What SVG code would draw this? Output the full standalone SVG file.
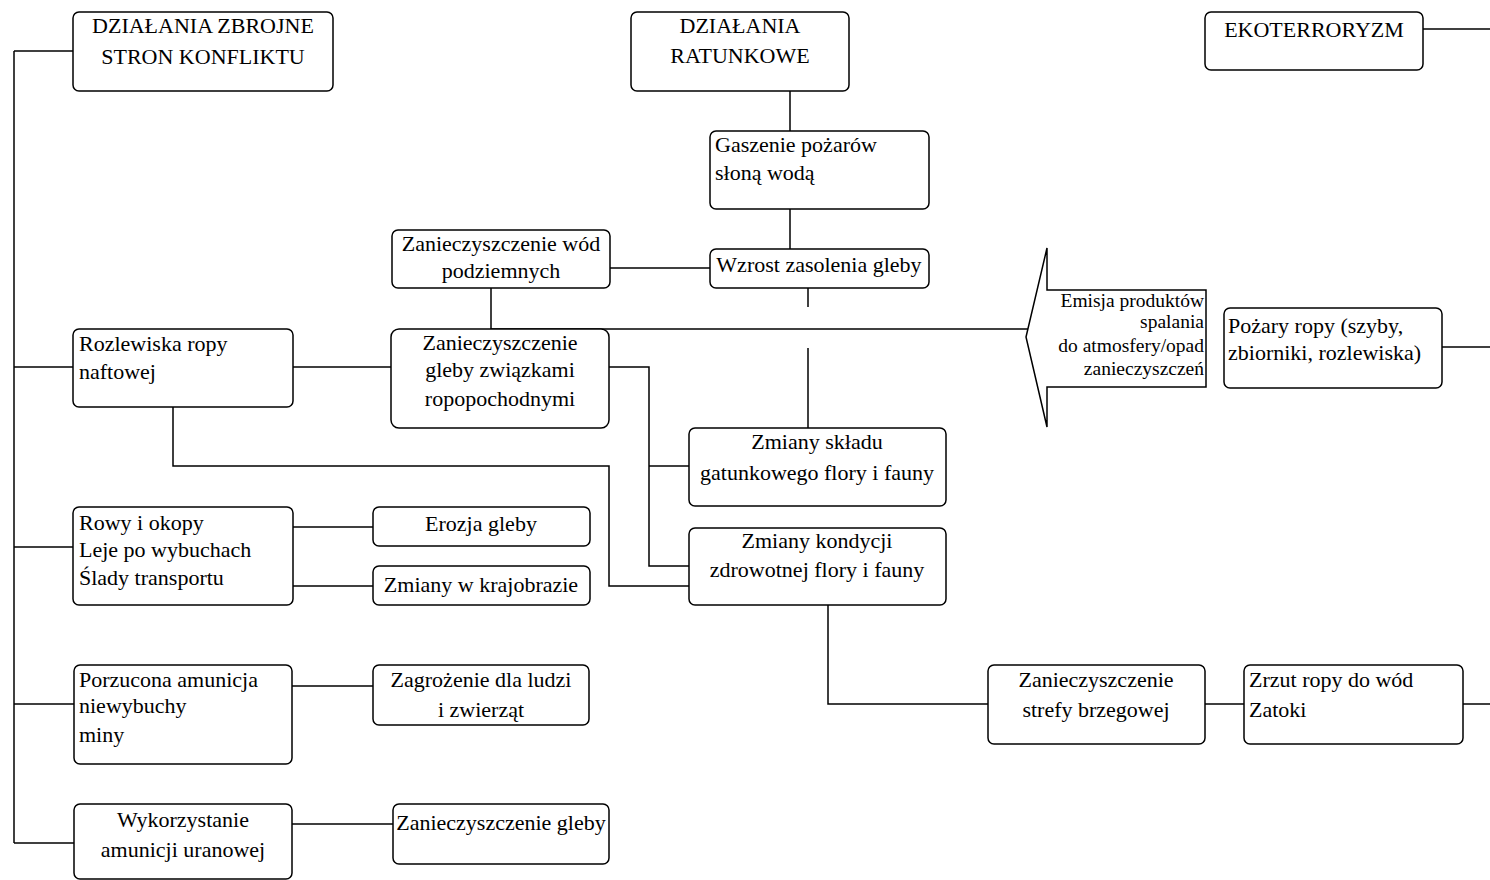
<svg xmlns="http://www.w3.org/2000/svg" width="1490" height="880" viewBox="0 0 1490 880">
<style>
rect.b{fill:#fff;stroke:#000;stroke-width:1.5}
text{font-family:"Liberation Serif","Times New Roman",serif;font-size:22px;fill:#000}
.c{text-anchor:middle}
.r{text-anchor:end}
.s{font-size:19.5px}
#connectors path{fill:none;stroke:#000;stroke-width:1.5}
</style>
<rect width="1490" height="880" fill="#fff"/>
<g id="connectors">
<path d="M14,51 V843"/>
<path d="M14,51 H73"/>
<path d="M14,367 H73"/>
<path d="M14,547 H73"/>
<path d="M14,704 H74"/>
<path d="M14,843 H74"/>
<path d="M293,367 H391"/>
<path d="M173,407 V466 H609 V586 H689"/>
<path d="M609,367 H649 V566 H689"/>
<path d="M649,466 H689"/>
<path d="M610,268 H710"/>
<path d="M491,288 V329"/>
<path d="M491,329 H1028"/>
<path d="M790,91 V131"/>
<path d="M790,209 V249"/>
<path d="M808,288 V307"/>
<path d="M808,348 V428"/>
<path d="M293,527 H373"/>
<path d="M293,586 H373"/>
<path d="M292,686 H373"/>
<path d="M292,824 H393"/>
<path d="M828,605 V704 H988"/>
<path d="M1205,704 H1244"/>
<path d="M1463,704 H1490"/>
<path d="M1442,347 H1490"/>
<path d="M1423,29 H1490"/>
</g>
<g id="dzialania-zbrojne"><rect class="b" x="73" y="12" width="260" height="79" rx="6"/><text class="c" x="203" y="33">DZIAŁANIA ZBROJNE</text><text class="c" x="203" y="64">STRON KONFLIKTU</text></g>
<g id="dzialania-ratunkowe"><rect class="b" x="631" y="12" width="218" height="79" rx="6"/><text class="c" x="740" y="33">DZIAŁANIA</text><text class="c" x="740" y="63">RATUNKOWE</text></g>
<g id="ekoterroryzm"><rect class="b" x="1205" y="12" width="218" height="58" rx="6"/><text class="c" x="1314" y="37">EKOTERRORYZM</text></g>
<g id="gaszenie"><rect class="b" x="710" y="131" width="219" height="78" rx="6"/><text x="715" y="152">Gaszenie pożarów</text><text x="715" y="180">słoną wodą</text></g>
<g id="wzrost"><rect class="b" x="710" y="249" width="219" height="39" rx="6"/><text class="c" x="819" y="272">Wzrost zasolenia gleby</text></g>
<g id="wody-podziemne"><rect class="b" x="392" y="230" width="218" height="58" rx="6"/><text class="c" x="501" y="251">Zanieczyszczenie wód</text><text class="c" x="501" y="278">podziemnych</text></g>
<g id="gleba-ropopochodne"><rect class="b" x="391" y="329" width="218" height="99" rx="8"/><text class="c" x="500" y="350">Zanieczyszczenie</text><text class="c" x="500" y="377">gleby związkami</text><text class="c" x="500" y="406">ropopochodnymi</text></g>
<g id="rozlewiska"><rect class="b" x="73" y="329" width="220" height="78" rx="6"/><text x="79" y="351">Rozlewiska ropy</text><text x="79" y="379">naftowej</text></g>
<g id="sklad-gatunkowy"><rect class="b" x="689" y="428" width="257" height="78" rx="6"/><text class="c" x="817" y="449">Zmiany składu</text><text class="c" x="817" y="480">gatunkowego flory i fauny</text></g>
<g id="kondycja"><rect class="b" x="689" y="528" width="257" height="77" rx="6"/><text class="c" x="817" y="548">Zmiany kondycji</text><text class="c" x="817" y="577">zdrowotnej flory i fauny</text></g>
<g id="rowy"><rect class="b" x="73" y="507" width="220" height="98" rx="6"/><text x="79" y="530">Rowy i okopy</text><text x="79" y="557">Leje po wybuchach</text><text x="79" y="585">Ślady transportu</text></g>
<g id="erozja"><rect class="b" x="373" y="507" width="217" height="39" rx="6"/><text class="c" x="481" y="531">Erozja gleby</text></g>
<g id="krajobraz"><rect class="b" x="373" y="566" width="217" height="39" rx="6"/><text class="c" x="481" y="592">Zmiany w krajobrazie</text></g>
<g id="porzucona"><rect class="b" x="74" y="665" width="218" height="99" rx="6"/><text x="79" y="687">Porzucona amunicja</text><text x="79" y="713">niewybuchy</text><text x="79" y="742">miny</text></g>
<g id="zagrozenie"><rect class="b" x="373" y="665" width="216" height="60" rx="6"/><text class="c" x="481" y="687">Zagrożenie dla ludzi</text><text class="c" x="481" y="717">i zwierząt</text></g>
<g id="uranowa"><rect class="b" x="74" y="804" width="218" height="75" rx="6"/><text class="c" x="183" y="827">Wykorzystanie</text><text class="c" x="183" y="857">amunicji uranowej</text></g>
<g id="gleba"><rect class="b" x="393" y="804" width="216" height="60" rx="6"/><text class="c" x="501" y="830">Zanieczyszczenie gleby</text></g>
<g id="emisja"><polygon points="1206,290 1047,290 1047,248 1026,337 1047,427 1047,387 1206,387" fill="#fff" stroke="#000" stroke-width="1.5"/><text class="r s" x="1204" y="307">Emisja produktów</text><text class="r s" x="1204" y="328">spalania</text><text class="r s" x="1204" y="352">do atmosfery/opad</text><text class="r s" x="1204" y="375">zanieczyszczeń</text></g>
<g id="pozary"><rect class="b" x="1224" y="308" width="218" height="80" rx="6"/><text x="1228" y="333">Pożary ropy (szyby,</text><text x="1228" y="360">zbiorniki, rozlewiska)</text></g>
<g id="strefa-brzegowa"><rect class="b" x="988" y="665" width="217" height="79" rx="6"/><text class="c" x="1096" y="687">Zanieczyszczenie</text><text class="c" x="1096" y="717">strefy brzegowej</text></g>
<g id="zrzut"><rect class="b" x="1244" y="665" width="219" height="79" rx="6"/><text x="1249" y="687">Zrzut ropy do wód</text><text x="1249" y="717">Zatoki</text></g>
</svg>
